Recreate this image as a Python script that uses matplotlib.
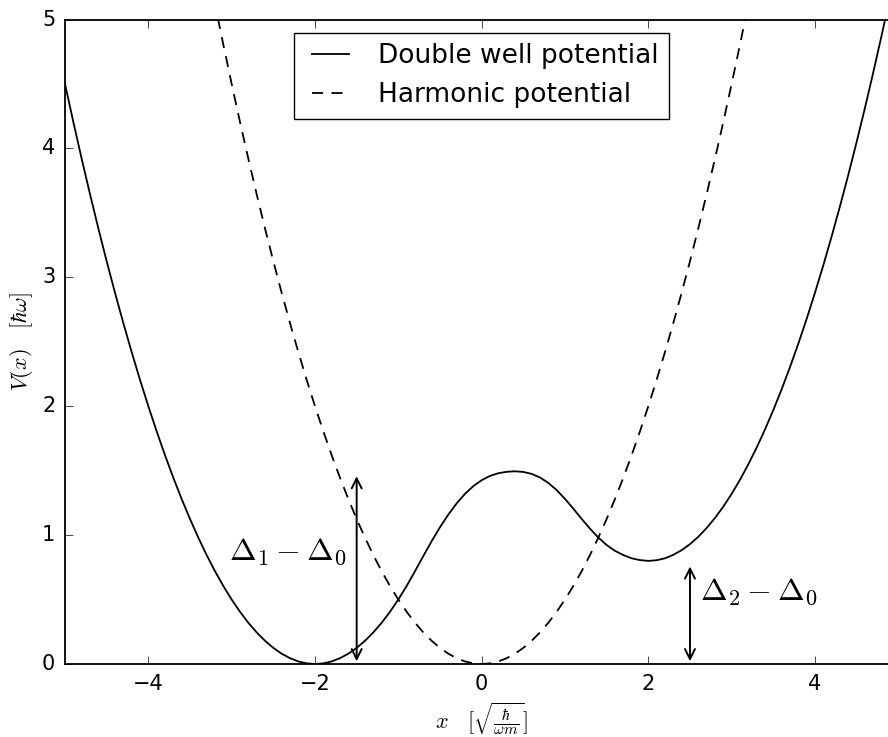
import numpy as np
import matplotlib
matplotlib.use('Agg')
import matplotlib.pyplot as plt

plt.style.use('classic')
plt.rcParams['mathtext.fontset'] = 'cm'
plt.rcParams['font.family'] = 'DejaVu Sans'

# values (step 0.1)
x_vals = [round(-5.0 + 0.1 * i, 1) for i in range(101)]

double_well = [4.5, 4.205, 3.92, 3.645, 3.38, 3.125, 2.88, 2.645, 2.42, 2.205,
               2.0, 1.805, 1.62, 1.445, 1.28, 1.125, 0.98, 0.845, 0.72, 0.605,
               0.5, 0.405, 0.32, 0.245, 0.18, 0.125, 0.08, 0.045, 0.02, 0.005,
               0.0, 0.005, 0.02, 0.045, 0.08, 0.125, 0.18, 0.245, 0.32, 0.405,
               0.50, 0.605, 0.72, 0.838, 0.953, 1.061, 1.159, 1.246, 1.32, 1.38,
               1.426, 1.459, 1.48, 1.491, 1.495, 1.49, 1.475, 1.447, 1.405, 1.349,
               1.281, 1.205, 1.126, 1.05, 0.981, 0.923, 0.878, 0.845, 0.82, 0.806,
               0.80, 0.805, 0.82, 0.847, 0.883, 0.93, 0.987, 1.055, 1.133, 1.221,
               1.32, 1.429, 1.549, 1.679, 1.819, 1.97, 2.131, 2.303, 2.485, 2.677,
               2.88, 3.093, 3.317, 3.551, 3.795, 4.05, 4.315, 4.591, 4.877, 5.173,
               5.48]

harm_x = [round(-3.3 + 0.1 * i, 1) for i in range(67)]
harmonic = [5.445, 5.12, 4.805, 4.5, 4.205, 3.92, 3.645, 3.38, 3.125, 2.88,
            2.645, 2.42, 2.205, 2.0, 1.805, 1.62, 1.445, 1.28, 1.125, 0.98,
            0.845, 0.72, 0.605, 0.5, 0.405, 0.32, 0.245, 0.18, 0.125, 0.08,
            0.045, 0.02, 0.005, 0.0, 0.005, 0.02, 0.045, 0.08, 0.125, 0.18,
            0.245, 0.32, 0.405, 0.5, 0.605, 0.72, 0.845, 0.98, 1.125, 1.28,
            1.445, 1.62, 1.805, 2.0, 2.205, 2.42, 2.645, 2.88, 3.125, 3.38,
            3.645, 3.92, 4.205, 4.5, 4.805, 5.12, 5.445]

# gap arrows: (x, bottom, top)
gap1 = (-1.5, 0.0, 1.5)
gap2 = (2.5, 0.0, 0.8)

fig = plt.figure(figsize=(8.88, 7.37), dpi=100, facecolor='white')
ax = fig.add_axes([65 / 888, 73 / 737, 833.3 / 888, 644.5 / 737])

ax.plot(x_vals, double_well, 'k-', lw=1.3, label='Double well potential')
ax.plot(harm_x, harmonic, 'k--', lw=1.3, dashes=(8, 6), label='Harmonic potential')

ax.set_xlim(-5, 5)
ax.set_ylim(0, 5)

for gx, g0, g1 in (gap1, gap2):
    ax.annotate('', xy=(gx, g0), xytext=(gx, g1),
                arrowprops=dict(arrowstyle='<->', color='k', lw=1.4,
                                mutation_scale=18, shrinkA=4, shrinkB=2))

ax.text(-1.62, 0.87, r'$\Delta_1-\Delta_0$', fontsize=23, ha='right', va='center')
ax.text(2.62, 0.56, r'$\Delta_2-\Delta_0$', fontsize=23, ha='left', va='center')

ax.set_xlabel(r'$x\quad[\sqrt{\frac{\hbar}{\omega m}}]$', fontsize=16)
ax.set_ylabel(r'$V(x)\quad[\hbar\omega]$', fontsize=16)

ax.tick_params(labelsize=15, length=6, direction='in', pad=7)
for s in ax.spines.values():
    s.set_linewidth(1.3)

leg = ax.legend(loc='upper center', fontsize=19, handlelength=2.0)
leg.get_frame().set_linewidth(1.0)

fig.savefig('out.png', dpi=100, facecolor='white')
